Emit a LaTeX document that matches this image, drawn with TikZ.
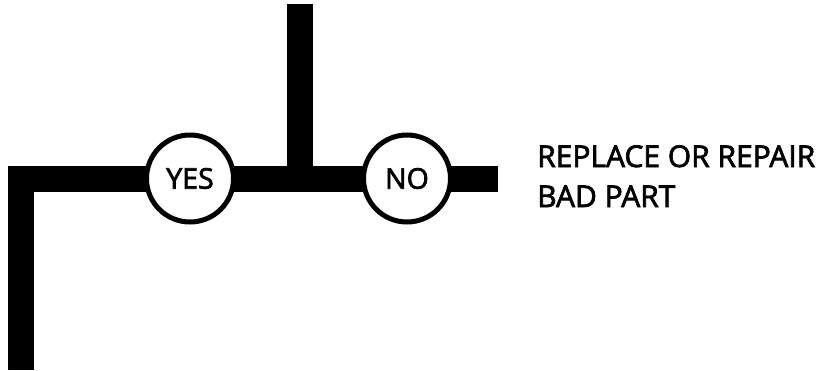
\documentclass[tikz,border=0pt]{standalone}
\usepackage{fontspec}
\setmainfont{Open Sans}
\newfontfamily\lblfont{Open Sans}[FakeBold=2.4]
\begin{document}
\begin{tikzpicture}[x=1pt,y=-1pt,
  bar/.style={line width=26pt,draw=black,line join=miter,line cap=butt},
  decision/.style={circle,draw=black,fill=white,line width=5pt,minimum size=87pt,inner sep=0pt,font=\lblfont\fontsize{28.5}{30}\selectfont},
  label/.style={anchor=base west,align=left,inner sep=0pt,font=\lblfont\fontsize{30}{40}\selectfont}]
\useasboundingbox (0,0) rectangle (820,370);
\coordinate (top) at (299.5,4);
\coordinate (tee) at (299.5,178.5);
\coordinate (corner) at (21,178.5);
\coordinate (bottom) at (21,370);
\coordinate (rend) at (498,178.5);
\draw[bar] (top) -- ([yshift=-13pt]tee);
\draw[bar] (bottom) -- (corner) -- (rend);
\node[decision] (yes) at (190,178.5) {YES};
\node[decision] (no) at (407,178.5) {NO};
\node[label] (txt) at (537,207) {REPLACE OR REPAIR\\BAD PART};
\end{tikzpicture}
\end{document}
